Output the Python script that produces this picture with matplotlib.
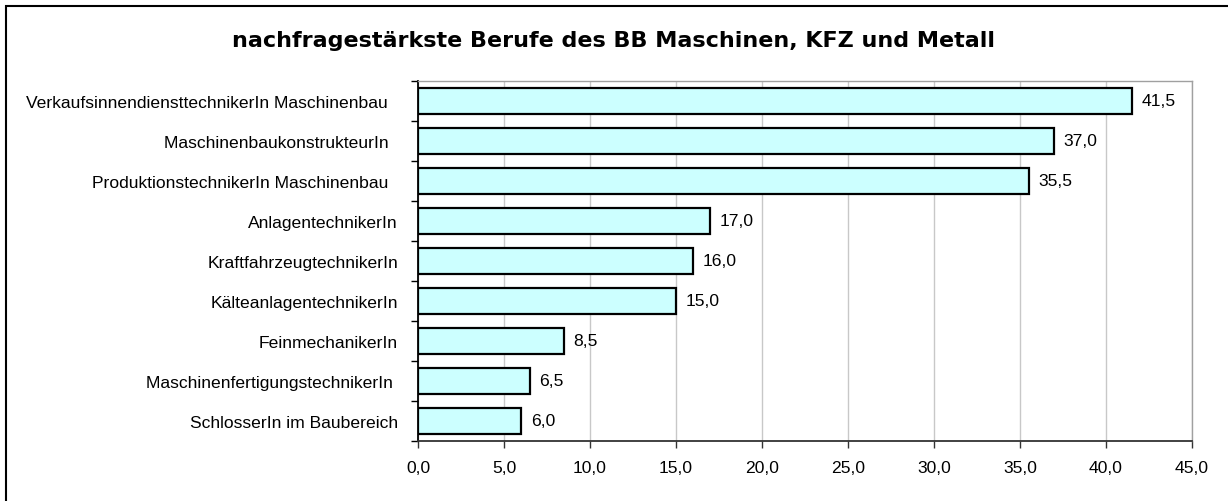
import matplotlib
matplotlib.use("Agg")
import matplotlib.pyplot as plt
from matplotlib.patches import Rectangle

plt.rcParams['font.family'] = ['Liberation Sans', 'DejaVu Sans']

title = "nachfragestärkste Berufe des BB Maschinen, KFZ und Metall"
categories = [
    "VerkaufsinnendiensttechnikerIn Maschinenbau  ",
    "MaschinenbaukonstrukteurIn  ",
    "ProduktionstechnikerIn Maschinenbau  ",
    "AnlagentechnikerIn",
    "KraftfahrzeugtechnikerIn",
    "KälteanlagentechnikerIn",
    "FeinmechanikerIn",
    "MaschinenfertigungstechnikerIn ",
    "SchlosserIn im Baubereich",
]
values = [41.5, 37.0, 35.5, 17.0, 16.0, 15.0, 8.5, 6.5, 6.0]
xticks = [0, 5, 10, 15, 20, 25, 30, 35, 40, 45]

W, H = 1228, 502
FS = 12.6
fig = plt.figure(figsize=(W / 100, H / 100), dpi=100)
ax = fig.add_axes([418 / W, 1 - 442 / H, (1192 - 418) / W, (442 - 82) / H])

n = len(categories)
ypos = list(range(n))[::-1]
ax.barh(ypos, values, height=0.64, color="#CCFFFF", edgecolor="black",
        linewidth=1.6, zorder=3)
for y, v in zip(ypos, values):
    ax.text(v + 0.55, y, f"{v:.1f}".replace(".", ","), va="center", ha="left",
            fontsize=FS, zorder=4)

ax.set_xlim(0, 45)
ax.set_ylim(-0.5, n - 0.5)
ax.set_xticks(xticks)
ax.set_xticklabels([f"{t:.1f}".replace(".", ",") for t in xticks], fontsize=FS)
ax.set_yticks(ypos)
ax.set_yticklabels(categories, fontsize=FS)
ax.tick_params(axis='y', length=0, pad=14.4)
# boundary ticks on y axis
ax.set_yticks([i - 0.5 for i in range(n + 1)], minor=True)
ax.tick_params(axis='y', which='minor', length=5, width=1, color='black', direction='out')
ax.tick_params(axis='x', length=5, width=1, color='#333333', direction='out', pad=9)

ax.grid(axis='x', color='#C8C8C8', linewidth=1, zorder=0)
for s in ['top', 'right']:
    ax.spines[s].set_color('#A0A0A0')
    ax.spines[s].set_linewidth(1)
ax.spines['left'].set_color('black')
ax.spines['left'].set_linewidth(1.3)
ax.spines['bottom'].set_color('#333333')
ax.spines['bottom'].set_linewidth(1.3)

fig.text(0.5, 1 - 41 / H, title, ha='center', va='center',
         fontsize=16, fontweight='bold', family=['DejaVu Sans'])

# figure border (left and top visible)
fig.patches.append(Rectangle((6 / W, -0.1), 1.2, 1 - 7 / H + 0.1,
                             transform=fig.transFigure, fill=False,
                             edgecolor='black', linewidth=1.5))

fig.savefig("out.png", dpi=100)
